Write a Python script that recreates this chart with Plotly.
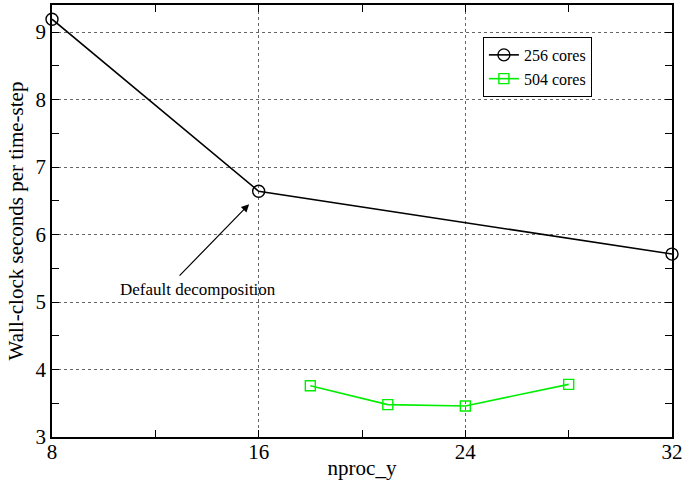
import plotly.graph_objects as go

x256 = [8, 16, 32]
y256 = [9.19, 6.64, 5.71]
x504 = [18, 21, 24, 28]
y504 = [3.76, 3.48, 3.46, 3.78]
xticks = [8, 16, 24, 32]
yticks = [3, 4, 5, 6, 7, 8, 9]

FONT = "Liberation Serif"

fig = go.Figure()
fig.add_trace(go.Scatter(
    x=x256, y=y256, mode="lines+markers", name="256 cores",
    line=dict(color="black", width=1.6),
    marker=dict(symbol="circle-open", size=12, color="black", line=dict(width=1.4)),
    cliponaxis=False,
))
fig.add_trace(go.Scatter(
    x=x504, y=y504, mode="lines+markers", name="504 cores",
    line=dict(color="#00ee00", width=1.6),
    marker=dict(symbol="square-open", size=10, color="#00ee00", line=dict(width=1.4)),
))

axis_common = dict(
    showline=True, linecolor="black", linewidth=1.5, mirror="allticks",
    ticks="inside", ticklen=7, tickwidth=1, tickcolor="black",
    showgrid=True, gridcolor="#666", griddash="dot", gridwidth=1,
    zeroline=False, automargin=False,
    tickfont=dict(family=FONT, size=21, color="black"),
    title_font=dict(family=FONT, size=21, color="black"),
)

fig.update_xaxes(
    range=[8, 32], tickvals=xticks, ticktext=[str(v) for v in xticks],
    minor=dict(dtick=4, tick0=8, ticks="inside", ticklen=7, tickcolor="black", showgrid=False),
    title=dict(text="nproc_y", standoff=4),
    ticklabelstandoff=-5,
    **axis_common,
)
fig.update_yaxes(
    range=[3, 9.4], tickvals=yticks, ticktext=[str(v) for v in yticks],
    minor=dict(dtick=0.5, tick0=3, ticks="inside", ticklen=7, tickcolor="black", showgrid=False),
    title=dict(text="Wall-clock seconds per time-step", standoff=6),
    **axis_common,
)

# arrow (no text) and its label
fig.add_annotation(
    x=15.63, y=6.45, xref="x", yref="y", text="", showarrow=True,
    ax=-71, ay=73, axref="pixel", ayref="pixel",
    arrowhead=2, arrowsize=1.3, arrowwidth=1.2, arrowcolor="black",
)
fig.add_annotation(
    x=13.65, y=5.19, xref="x", yref="y",
    text="Default decomposition", showarrow=False,
    font=dict(family=FONT, size=17, color="black"),
)

fig.update_layout(
    width=691, height=480,
    margin=dict(l=52, r=19, t=5, b=43),
    paper_bgcolor="white", plot_bgcolor="white",
    font=dict(family=FONT, color="black"),
    legend=dict(
        x=0.695, y=0.926, xanchor="left", yanchor="top",
        bgcolor="white", bordercolor="black", borderwidth=1,
        font=dict(family=FONT, size=16, color="black"),
        itemwidth=30, tracegroupgap=0,
    ),
)

fig.write_html(
    "out.html",
    config={"displayModeBar": False},
    post_script="document.body.style.margin='0';document.body.style.overflow='hidden';",
)
